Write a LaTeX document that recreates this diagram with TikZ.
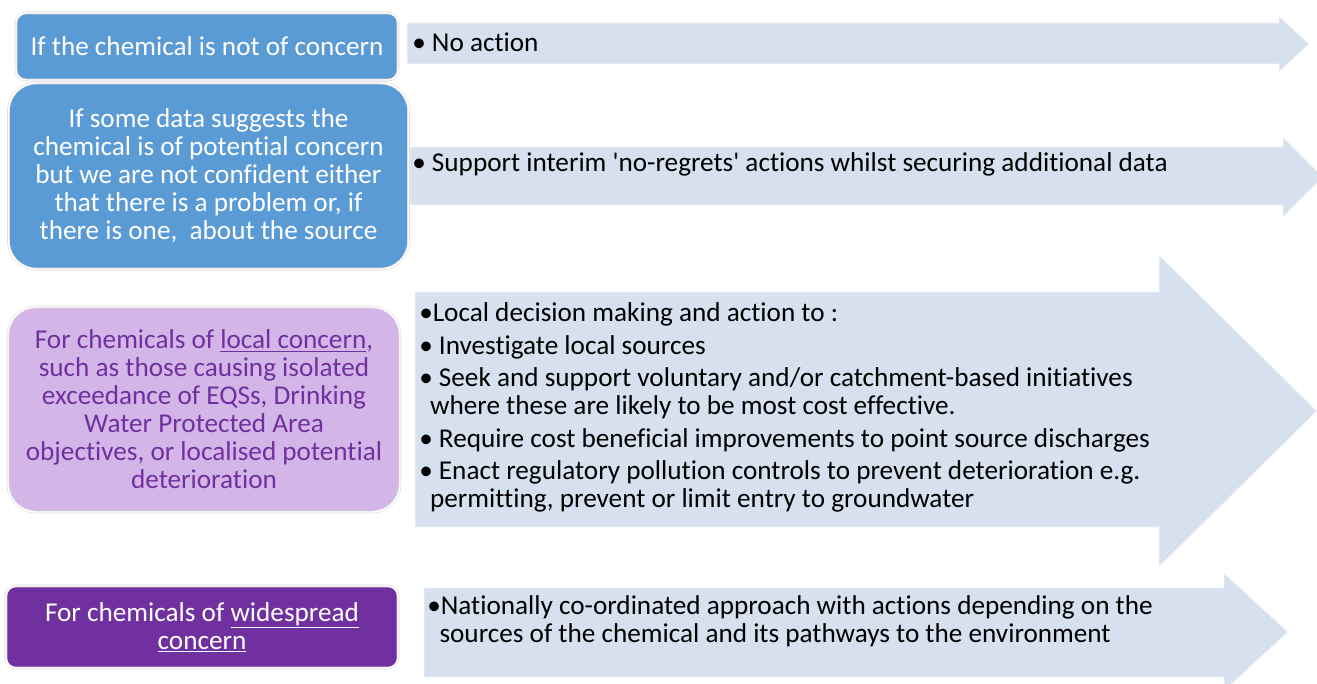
\documentclass[tikz,border=0pt]{standalone}
\usepackage{fontspec}
\setmainfont{Carlito}[Ligatures={NoCommon}]
\definecolor{boxblue}{HTML}{5B9BD5}
\definecolor{lilac}{HTML}{D3B5E7}
\definecolor{plum}{HTML}{7030A0}
\definecolor{arrowfill}{HTML}{D6E0EF}
\begin{document}
\begin{tikzpicture}[x=0.75pt,y=-0.75pt,
  txt/.style={font=\fontsize{20.4}{21}\selectfont},
  stage/.style={txt, rectangle, draw=black!15, double=white, double distance=1.1pt,
    align=center, inner sep=0pt},
  action/.style={fill=arrowfill, draw=white!80!arrowfill, line width=0.6pt},
  actiontext/.style={txt, text=black, align=left, inner sep=0pt}]
\useasboundingbox (0,0) rectangle (1317,684);

% broad arrows carrying the actions
\filldraw[action] (407,23) -- (1279,23) -- (1279,16) -- (1309,44) -- (1279,72) -- (1279,64) -- (407,64) -- cycle;
\filldraw[action] (410,147) -- (1283,147) -- (1283,137) -- (1323,177) -- (1283,217) -- (1283,205) -- (410,205) -- cycle;
\filldraw[action] (415,292) -- (1159,292) -- (1159,255) -- (1317,411) -- (1159,567) -- (1159,527) -- (415,527) -- cycle;
\filldraw[action] (424,588) -- (1224,588) -- (1224,573) -- (1288,632) -- (1224,691) -- (1224,677) -- (424,677) -- cycle;

% stage boxes on the left
\node[stage, fill=boxblue, text=white, rounded corners=7.5pt,
      minimum width=286.5pt, minimum height=50.25pt] (notconcern) at (207,46.5)
  {If the chemical is not of concern};
\node[stage, fill=boxblue, text=white, rounded corners=21pt,
      minimum width=300pt, minimum height=139.5pt] (potential) at (208.5,176)
  {If some data suggests the\\chemical is of potential concern\\but we are not confident either\\that there is a problem or, if\\there is one,\ \ about the source};
\node[stage, fill=lilac, text=plum, rounded corners=21pt,
      minimum width=294pt, minimum height=153.75pt] (local) at (204,409.5)
  {For chemicals of \underline{local concern},\\such as those causing isolated\\exceedance of EQSs, Drinking\\Water Protected Area\\objectives, or localised potential\\deterioration};
\node[stage, fill=plum, text=white, rounded corners=7.5pt,
      minimum width=294pt, minimum height=61.5pt] (widespread) at (202,627)
  {For chemicals of \underline{widespread}\\\underline{concern}};

% action texts
\node[actiontext, anchor=west] (noaction) at (412,42) {• No action};
\node[actiontext, anchor=west] (interim) at (412,164)
  {• Support interim \textquotesingle no-regrets\textquotesingle\ actions whilst securing additional data};
\node[actiontext, anchor=north west] (localact) at (419,302.5)
  {•Local decision making and action to :\\[3.4pt]
   • Investigate local sources\\[3.4pt]
   • Seek and support voluntary and/or catchment-based initiatives\\
   \hspace*{0.4em}where these are likely to be most cost effective.\\[3.4pt]
   • Require cost beneficial improvements to point source discharges\\[3.4pt]
   • Enact regulatory pollution controls to prevent deterioration e.g.\\
   \hspace*{0.4em}permitting, prevent or limit entry to groundwater};
\node[actiontext, anchor=north west] (national) at (427,595)
  {•Nationally co-ordinated approach with actions depending on the\\
   \hspace*{0.45em}sources of the chemical and its pathways to the environment};
\end{tikzpicture}
\end{document}
